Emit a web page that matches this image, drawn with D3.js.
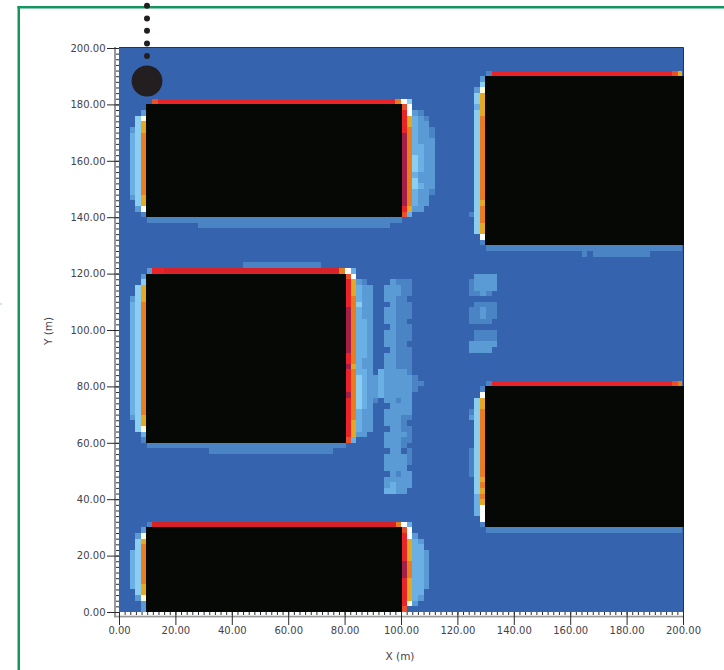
<!DOCTYPE html>
<html>
<head>
<meta charset="utf-8">
<script src="https://cdn.jsdelivr.net/npm/d3@7"></script>
<style>
  html, body { margin: 0; padding: 0; background: #fff; }
  svg { display: block; font-family: "DejaVu Sans", sans-serif; }
  text { fill: #44434a; }
</style>
</head>
<body>
<div id="chart"></div>
<script>
// Levels of the field, lowest to highest (level 0 is the plot background)
const L1 = 1, L2 = 2, L3 = 3, L4 = 4, WH = 5, CR = 6, YE = 7, OR = 8, RO = 9, RE = 10, DR = 11, CM = 12;
const levelColors = ['#3563ae', '#4a84c4', '#5b9bd5', '#6bb0e5', '#8ccdf2', '#ffffff', '#fff9dc',
                     '#e5a823', '#e87c1e', '#e9502a', '#e92327', '#d62228', '#a51e48'];

// Buildings in metres: x0, x1, y0, y1
const buildings = [
    [9.6, 100.4, 140, 180],
    [9.6, 80.5, 60, 120],
    [9.6, 100.4, 0, 30],
    [129.8, 200.4, 130, 190],
    [129.8, 200.4, 30, 80]
];

// Person / source markers in metres
const bigDot = [10, 188.3];
const smallDots = [[10, 197.2], [10, 201.6], [10, 206.1], [10, 210.5], [10, 215]];

// Vertical runs of the field: x0, x1, then [y0, y1, level]
const leftOfBuilding1 = [
    [3.9, 5.8, [[146, 148, L2], [148, 170, L3], [170, 172, L2]]],
    [5.8, 7.7, [[142, 144, L2], [144, 176, L4]]],
    [7.7, 9.6, [[140, 142, L1], [142, 144, WH], [144, 148, YE], [148, 170, OR], [170, 174, YE], [174, 176, CR], [176, 178, L2]]]
];
const rightOfBuilding1 = [
    [100.4, 102, [[140, 142, RO], [142, 144, RE], [144, 170, CM], [170, 178, RE], [178, 180, RO]]],
    [102, 103.9, [[140, 142, L3], [142, 144, YE], [144, 172, OR], [172, 176, YE], [176, 180, WH]]],
    [103.9, 106, [[142, 144, L2], [144, 150, L3], [150, 154, L4], [154, 156, L3], [156, 162, L4], [162, 176, L3], [176, 178, L2]]],
    [106, 108, [[142, 150, L2], [150, 152, L3], [152, 156, L2], [156, 166, L3], [166, 176, L2], [176, 178, L1]]],
    [108, 110, [[144, 174, L2], [174, 176, L1]]],
    [110, 112, [[148, 150, L1], [150, 168, L2], [168, 172, L1]]]
];
const leftOfBuilding2 = [
    [3.9, 5.8, [[68, 70, L2], [70, 110, L3], [110, 112, L2]]],
    [5.8, 7.7, [[64, 116, L4]]],
    [7.7, 9.6, [[60, 62, L1], [62, 64, L3], [64, 66, CR], [66, 70, YE], [70, 110, OR], [110, 116, YE], [116, 118, L4], [118, 120, L2]]]
];
const rightOfBuilding2 = [
    [80.5, 82.2, [[60, 62, RO], [62, 76, RE], [76, 78, CM], [78, 86, RE], [86, 88, CM], [88, 92, RE], [92, 108, CM], [108, 118, RE], [118, 120, RO]]],
    [82.2, 84, [[60, 62, L3], [62, 68, YE], [68, 86, OR], [86, 88, YE], [88, 112, OR], [112, 118, YE], [118, 120, WH]]],
    [84, 86, [[62, 64, L2], [64, 72, L3], [72, 84, L4], [84, 108, L3], [108, 110, L4], [110, 116, L3], [116, 118, L2]]],
    [86, 88, [[62, 72, L2], [72, 86, L3], [86, 90, L2], [90, 104, L3], [104, 116, L2], [116, 118, L1]]],
    [88, 90, [[64, 116, L2]]],
    [90, 92, [[74, 76, L1], [76, 84, L2]]],
    [92, 94, [[76, 86, L3]]]
];
const plumeBehindBuilding2 = [
    [94, 96.1, [[42, 44, L3], [44, 48, L2], [50, 56, L2], [58, 64, L2], [66, 72, L2], [74, 92, L2], [94, 100, L2], [102, 108, L2], [110, 116, L2]]],
    [96.1, 98.1, [[42, 46, L3], [46, 118, L2]]],
    [98.1, 100, [[42, 48, L2], [48, 50, L1], [50, 74, L2], [74, 76, L1], [76, 86, L2], [86, 112, L1], [112, 116, L2], [116, 118, L1]]],
    [100, 102, [[42, 50, L2], [50, 56, L2], [58, 62, L1], [62, 64, L2], [64, 70, L1], [70, 86, L2], [86, 118, L1]]],
    [102, 103.9, [[44, 50, L2], [52, 58, L1], [60, 66, L1], [68, 70, L1], [70, 84, L2], [84, 94, L1], [96, 102, L1], [104, 110, L1], [112, 118, L1]]],
    [103.9, 106.1, [[78, 84, L1]]],
    [106.1, 108.2, [[80, 82, L1]]]
];
const gapBlobs = [
    [124.1, 126, [[92, 96, L2], [102, 108, L1], [112, 118, L1]]],
    [126, 128.1, [[92, 96, L2], [96, 100, L1], [102, 110, L1], [112, 114, L1], [114, 120, L2]]],
    [128.1, 130.1, [[92, 96, L2], [96, 100, L1], [102, 104, L1], [104, 108, L2], [108, 110, L1], [112, 120, L2]]],
    [130.1, 132.2, [[92, 96, L2], [96, 100, L1], [102, 110, L1], [112, 114, L1], [114, 120, L2]]],
    [132.2, 134, [[94, 96, L2], [96, 100, L1], [104, 110, L1], [114, 120, L2]]]
];
const leftOfBuilding3 = [
    [3.9, 5.8, [[8, 22, L3]]],
    [5.8, 7.7, [[4, 6, L2], [6, 26, L4], [26, 28, L2]]],
    [7.7, 9.6, [[0, 4, L2], [4, 6, CR], [6, 10, YE], [10, 24, OR], [24, 26, YE], [26, 28, CR], [28, 30, L2]]]
];
const rightOfBuilding3 = [
    [100.4, 102, [[0, 2, RO], [2, 12, RE], [12, 18, CM], [18, 28, RE], [28, 30, RO]]],
    [102, 103.9, [[2, 4, CR], [4, 12, YE], [12, 18, OR], [18, 26, YE], [26, 30, WH]]],
    [103.9, 106, [[2, 4, L2], [4, 26, L3], [26, 28, L2]]],
    [106, 108, [[4, 6, L2], [6, 24, L3], [24, 26, L2]]],
    [108, 110, [[8, 22, L2]]]
];
const leftOfBuilding4 = [
    [124.1, 126, [[140, 142, L1]]],
    [126, 128.1, [[134, 178, L4], [178, 180, L3], [180, 184, L4], [184, 186, L2]]],
    [128.1, 129.8, [[130, 132, L1], [132, 134, WH], [134, 138, YE], [138, 144, OR], [144, 146, YE], [146, 176, OR], [176, 184, YE], [184, 186, CR], [186, 188, L4], [188, 190, L2]]]
];
const leftOfBuilding5 = [
    [124.1, 126, [[48, 58, L1], [68, 70, L2], [70, 72, L1]]],
    [126, 128.1, [[34, 42, L3], [42, 76, L4]]],
    [128.1, 129.8, [[30, 32, L1], [32, 38, WH], [38, 40, YE], [40, 42, OR], [42, 44, YE], [44, 46, OR], [46, 48, YE], [48, 72, OR], [72, 76, YE], [76, 78, WH], [78, 80, L1]]]
];

// Horizontal runs along the building edges: y0, y1, then [x0, x1, level]
const edgeRuns = [
    [180, 182, [[11.8, 13.7, RO], [13.7, 97.9, RE], [97.9, 100, OR], [100, 102, WH], [102, 103.9, L4]]],
    [138, 140, [[9.9, 100.2, L1]]],
    [136, 138, [[27.9, 96.1, L1]]],
    [120, 122, [[9.8, 11.8, L2], [11.8, 16, RE], [16, 78, DR], [78, 80.2, OR], [80.2, 82.2, WH], [82.2, 84, L3]]],
    [122, 124, [[44.1, 71.7, L1]]],
    [58, 60, [[9.9, 80.5, L1]]],
    [56, 58, [[32, 75.9, L1]]],
    [30, 32, [[9.8, 11.8, L1], [11.8, 98.2, DR], [98.2, 100.1, OR], [100.1, 102, WH], [102, 103.9, L3]]],
    [190, 192, [[130, 132.2, L1], [132.2, 196, RE], [196, 198.1, RO], [198.1, 199.6, YE]]],
    [128, 130, [[130, 199.6, L1]]],
    [126, 128, [[164.1, 166, L1], [168, 188.3, L1]]],
    [80, 82, [[130, 132.2, L1], [132.2, 196.1, RE], [196.1, 198.1, RO], [198.1, 199.6, OR]]],
    [28, 30, [[130, 199.6, L1]]]
];

const majorTicks = d3.range(0, 201, 20);
const minorTicks = d3.range(0, 201, 2);

const width = 724, height = 670;
const svg = d3.select('#chart').append('svg')
    .attr('width', width)
    .attr('height', height)
    .attr('viewBox', `0 0 ${width} ${height}`);

const x = d3.scaleLinear().domain([0, 200]).range([119, 683]);
const y = d3.scaleLinear().domain([0, 200]).range([612, 48]);
const color = d3.scaleOrdinal().domain(d3.range(levelColors.length)).range(levelColors);

// Green frame of the page
svg.append('rect').attr('x', 17.5).attr('y', 6).attr('width', 2.5).attr('height', height - 6).attr('fill', '#16955f');
svg.append('rect').attr('x', 17.5).attr('y', 6).attr('width', width - 17.5).attr('height', 2.5).attr('fill', '#16955f');
svg.append('rect').attr('x', 0).attr('y', 303.5).attr('width', 2).attr('height', 1).attr('fill', '#a9c9dc');

// Axis rails
svg.append('rect').attr('x', 114).attr('y', 47).attr('width', 2).attr('height', 570.3).attr('fill', '#999');
svg.append('rect').attr('x', 114).attr('y', 615.7).attr('width', 570).attr('height', 1.7).attr('fill', '#999');

// Plot background
svg.append('rect')
    .attr('x', x(0)).attr('y', y(200))
    .attr('width', x(200) - x(0)).attr('height', y(0) - y(200))
    .attr('fill', color(0));

// Field cells
const columns = [].concat(leftOfBuilding1, rightOfBuilding1, leftOfBuilding2, rightOfBuilding2, plumeBehindBuilding2,
    gapBlobs, leftOfBuilding3, rightOfBuilding3, leftOfBuilding4, leftOfBuilding5);
const cells = [];
columns.forEach(([x0, x1, runs]) => runs.forEach(([y0, y1, level]) => cells.push({ x0, x1, y0, y1, level })));
edgeRuns.forEach(([y0, y1, runs]) => runs.forEach(([x0, x1, level]) => cells.push({ x0, x1, y0, y1, level })));

svg.append('g').attr('shape-rendering', 'crispEdges')
    .selectAll('rect')
    .data(cells)
    .join('rect')
    .attr('x', d => x(d.x0))
    .attr('y', d => y(d.y1))
    .attr('width', d => x(d.x1) - x(d.x0))
    .attr('height', d => y(d.y0) - y(d.y1))
    .attr('fill', d => color(d.level));

// Frame line on top and right of the plot
svg.append('path')
    .attr('d', `M${x(0)},${y(200) - 0.5}H${x(200) + 0.5}V${y(0)}`)
    .attr('fill', 'none')
    .attr('stroke', '#2d3340');

// Buildings
svg.append('g').attr('shape-rendering', 'crispEdges')
    .selectAll('rect')
    .data(buildings)
    .join('rect')
    .attr('x', d => x(d[0]))
    .attr('y', d => y(d[3]))
    .attr('width', d => x(d[1]) - x(d[0]))
    .attr('height', d => y(d[2]) - y(d[3]))
    .attr('fill', '#060805');

// Axes (d3.axis puts its own font-family on the group, so set ours here)
const styleAxis = g => {
    g.attr('font-family', '"DejaVu Sans", sans-serif');
    g.select('.domain').remove();
    g.selectAll('line').attr('stroke', '#2a2a2e');
    g.selectAll('text').style('font-size', '10px').attr('fill', '#44434a');
};

svg.append('g')
    .attr('transform', `translate(${x(0)},0)`)
    .call(d3.axisLeft(y).tickValues(minorTicks).tickSize(3).tickFormat(''))
    .call(styleAxis);
svg.append('g')
    .attr('transform', `translate(${x(0)},0)`)
    .call(d3.axisLeft(y).tickValues(majorTicks).tickSize(12).tickPadding(1.5).tickFormat(d => d.toFixed(2)))
    .call(styleAxis);
svg.append('g')
    .attr('transform', `translate(0,${y(0)})`)
    .call(d3.axisBottom(x).tickValues(minorTicks).tickSize(3).tickFormat(''))
    .call(styleAxis);
svg.append('g')
    .attr('transform', `translate(0,${y(0)})`)
    .call(d3.axisBottom(x).tickValues(majorTicks).tickSize(13).tickPadding(2).tickFormat(d => d.toFixed(2)))
    .call(styleAxis);

// Axis titles
svg.append('text')
    .attr('x', 400).attr('y', 660)
    .attr('text-anchor', 'middle')
    .style('font-size', '10.5px')
    .text('X (m)');
svg.append('text')
    .attr('transform', 'translate(51.5,331) rotate(-90)')
    .attr('text-anchor', 'middle')
    .style('font-size', '10.5px')
    .text('Y (m)');

// Dots above the first building
svg.append('g')
    .selectAll('circle')
    .data(smallDots)
    .join('circle')
    .attr('cx', d => x(d[0]) - 0.2)
    .attr('cy', d => y(d[1]))
    .attr('r', 3)
    .attr('fill', '#231f20');
svg.append('circle')
    .attr('cx', x(bigDot[0]) - 0.2)
    .attr('cy', y(bigDot[1]))
    .attr('r', 15.4)
    .attr('fill', '#231f20');
</script>
</body>
</html>
